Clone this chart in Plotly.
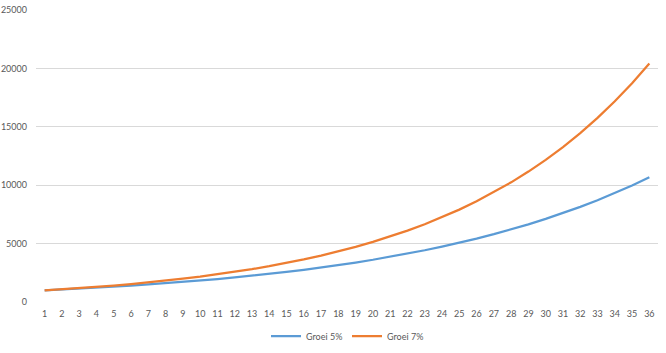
import plotly.graph_objects as go

periods = list(range(1, 37))
groei_5 = [1000, 1070, 1145, 1225, 1311, 1403, 1501, 1606, 1718, 1838, 1967, 2105,
           2252, 2410, 2579, 2759, 2952, 3159, 3380, 3617, 3870, 4141, 4430, 4741,
           5072, 5427, 5807, 6214, 6649, 7114, 7612, 8145, 8715, 9325, 9978, 10677]
groei_7 = [1000, 1090, 1188, 1295, 1412, 1539, 1677, 1828, 1993, 2172, 2367, 2580,
           2813, 3066, 3342, 3642, 3970, 4328, 4717, 5142, 5604, 6109, 6659, 7258,
           7911, 8623, 9399, 10245, 11167, 12172, 13268, 14462, 15763, 17182, 18728, 20414]
y_ticks = [0, 5000, 10000, 15000, 20000, 25000]

fig = go.Figure()
fig.add_trace(go.Scatter(x=periods, y=groei_5, mode="lines", name="Groei 5%",
                         line=dict(color="#5b9bd5", width=2.25)))
fig.add_trace(go.Scatter(x=periods, y=groei_7, mode="lines", name="Groei 7%",
                         line=dict(color="#ed7d31", width=2.25)))

fig.update_layout(
    width=666, height=353,
    margin=dict(l=36, r=8, t=10, b=51, autoexpand=False),
    paper_bgcolor="white", plot_bgcolor="white",
    font=dict(family="Lato, Open Sans, sans-serif", size=9, color="#595959"),
    showlegend=True,
    legend=dict(orientation="h", x=0.5, xanchor="center", y=-0.117, yanchor="middle",
                font=dict(size=9, color="#595959"), itemwidth=30,
                entrywidth=36, entrywidthmode="pixels"),
    xaxis=dict(range=[0.5, 36.5], tickmode="array", tickvals=periods,
               ticktext=[str(p) for p in periods], showgrid=False, zeroline=False,
               showline=False, ticks="", ticklabelstandoff=5),
    yaxis=dict(range=[0, 25000], tickmode="array", tickvals=y_ticks,
               ticktext=[str(v) for v in y_ticks], showgrid=True, gridcolor="#d9d9d9",
               gridwidth=1, zeroline=False, showline=False, ticks="",
               ticklabelstandoff=8),
)

fig.write_html("out.html")
